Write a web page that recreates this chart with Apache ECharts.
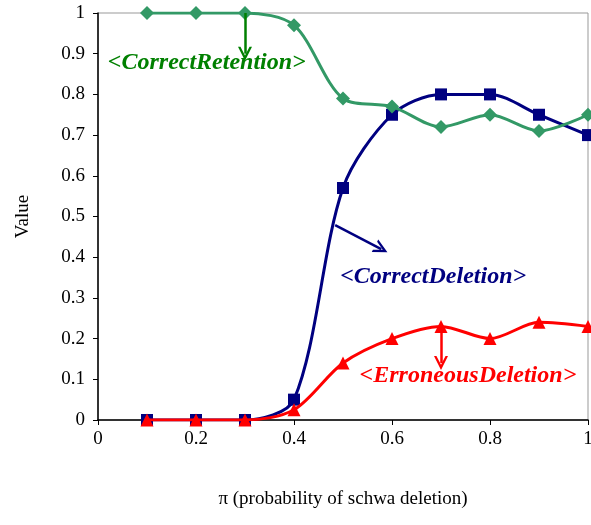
<!DOCTYPE html>
<html><head><meta charset="utf-8">
<script src="https://cdn.jsdelivr.net/npm/echarts@6/dist/echarts.min.js"></script>
<style>html,body{margin:0;padding:0;background:#fff}#c{width:591px;height:525px}</style>
</head><body><div id="c"></div>
<script>
const xValues = [0.1, 0.2, 0.3, 0.4, 0.5, 0.6, 0.7, 0.8, 0.9, 1.0];
const correctRetention = [1, 1, 1, 0.97, 0.79, 0.77, 0.72, 0.75, 0.71, 0.75];
const correctDeletion = [0, 0, 0, 0.05, 0.57, 0.75, 0.80, 0.80, 0.75, 0.70];
const erroneousDeletion = [0, 0, 0, 0.025, 0.14, 0.20, 0.23, 0.20, 0.24, 0.23];
const xTicks = [0, 0.2, 0.4, 0.6, 0.8, 1];
const yTicks = [0, 0.1, 0.2, 0.3, 0.4, 0.5, 0.6, 0.7, 0.8, 0.9, 1];

const GREEN = '#339966', BLUE = '#000080', RED = '#ff0000';
const FONT = '"Liberation Serif", "DejaVu Serif", serif';
const CHEVRON = 'path://M0,12 L10,0 L20,12 L16.5,12 L10,4.5 L3.5,12 Z';

function pairs(vals){ return xValues.map((x,i)=>[x, vals[i]]); }
function arrow(from, to, color){
  return {
    symbol: ['none', CHEVRON], symbolSize: 14, silent: true,
    lineStyle: {color: color, width: 2.5, type: 'solid'},
    itemStyle: {color: color},
    label: {show: false},
    emphasis: {disabled: true},
    data: [[{coord: from}, {coord: to}]]
  };
}
function note(at, text, color){
  return {
    symbol: 'circle', symbolSize: 0, silent: true,
    label: {show: true, position: 'inside', formatter: text, color: color,
      fontFamily: FONT, fontStyle: 'italic', fontWeight: 'bold', fontSize: 24},
    data: [{coord: at}]
  };
}

const chart = echarts.init(document.getElementById('c'), null, {renderer: 'canvas'});
chart.setOption({
  animation: false,
  grid: {left: 98, right: 3, top: 13, bottom: 105, show: true, borderColor: '#999', borderWidth: 1,
    outerBoundsMode: 'none', containLabel: false},
  xAxis: {
    type: 'value', min: 0, max: 1, interval: 0.2,
    name: 'π (probability of schwa deletion)', nameLocation: 'middle', nameGap: 70,
    nameTextStyle: {fontFamily: FONT, fontSize: 19, color: '#000'},
    axisLine: {lineStyle: {color: '#000', width: 1.5}},
    axisTick: {show: true, inside: false, length: 5, lineStyle: {color: '#000'}},
    axisLabel: {fontFamily: FONT, fontSize: 19, color: '#000', margin: 10,
      formatter: v => xTicks.includes(+v.toFixed(1)) ? String(+v.toFixed(1)) : ''},
    splitLine: {show: false}
  },
  yAxis: {
    type: 'value', min: 0, max: 1, interval: 0.1,
    name: 'Value', nameLocation: 'middle', nameGap: 65, nameRotate: 90,
    nameTextStyle: {fontFamily: FONT, fontSize: 19, color: '#000'},
    axisLine: {show: true, lineStyle: {color: '#000', width: 1.5}},
    axisTick: {show: true, inside: false, length: 5, lineStyle: {color: '#000'}},
    axisLabel: {fontFamily: FONT, fontSize: 19, color: '#000', margin: 13,
      formatter: v => { const r = +v.toFixed(1); return yTicks.includes(r) ? String(r) : ''; }},
    splitLine: {show: false}
  },
  series: [
    {type: 'line', name: 'CorrectRetention', data: pairs(correctRetention), smooth: 0.3,
      symbol: 'diamond', symbolSize: 14, itemStyle: {color: GREEN}, lineStyle: {color: GREEN, width: 3},
      markLine: arrow([0.3, 1.0], [0.3, 0.9], '#008000'), z: 3},
    {type: 'line', name: 'CorrectRetentionNote', data: [], markPoint: note([0.222, 0.877], '<CorrectRetention>', '#008000')},
    {type: 'line', name: 'CorrectDeletion', data: pairs(correctDeletion), smooth: 0.3,
      symbol: 'rect', symbolSize: 12, itemStyle: {color: BLUE}, lineStyle: {color: BLUE, width: 3},
      markLine: arrow([0.484, 0.479], [0.578, 0.42], BLUE), z: 2},
    {type: 'line', name: 'CorrectDeletionNote', data: [], markPoint: note([0.684, 0.351], '<CorrectDeletion>', BLUE)},
    {type: 'line', name: 'ErroneousDeletion', data: pairs(erroneousDeletion), smooth: 0.3,
      symbol: 'triangle', symbolSize: 13, itemStyle: {color: RED}, lineStyle: {color: RED, width: 3},
      markLine: arrow([0.7, 0.23], [0.7, 0.14], RED), z: 4},
    {type: 'line', name: 'ErroneousDeletionNote', data: [], markPoint: note([0.755, 0.108], '<ErroneousDeletion>', RED)}
  ]
});
</script></body></html>
